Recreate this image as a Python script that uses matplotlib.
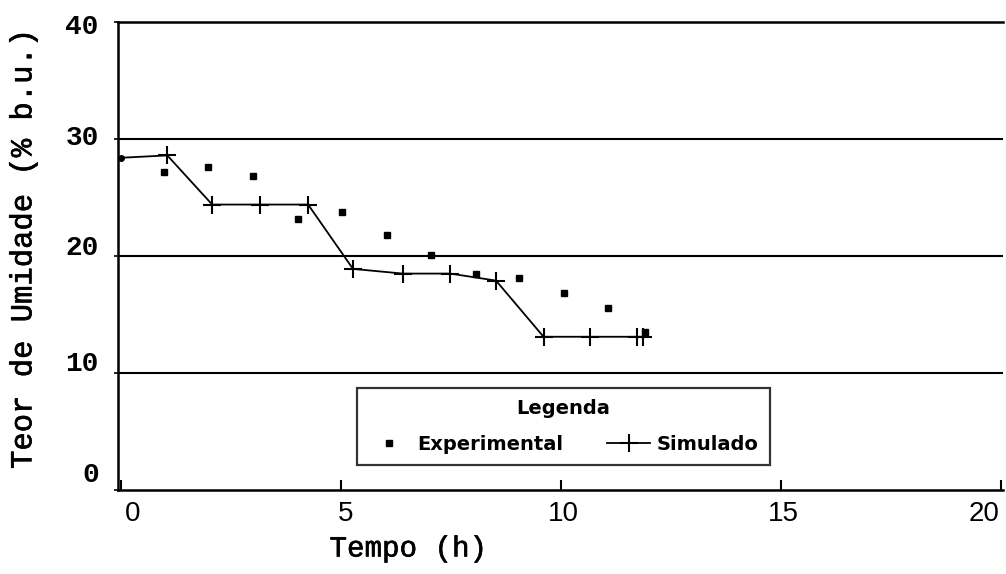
import matplotlib
matplotlib.use("Agg")
import matplotlib.pyplot as plt
import matplotlib.patheffects as pe
from matplotlib.transforms import ScaledTranslation

# experimental moisture content (% b.u.) vs time (h)
exp_time = [0.98, 1.98, 3.0, 4.02, 5.02, 6.05, 7.05, 8.07, 9.05, 10.07, 11.07, 11.9]
exp_moist = [27.2, 27.6, 26.8, 23.2, 23.8, 21.8, 20.1, 18.5, 18.1, 16.8, 15.6, 13.5]

# simulated moisture content
sim_time = [0.0, 1.05, 2.07, 3.16, 4.25, 5.27, 6.4, 7.48, 8.52, 9.6, 10.66, 11.72, 11.86]
sim_moist = [28.4, 28.6, 24.4, 24.4, 24.4, 18.9, 18.5, 18.5, 17.9, 13.1, 13.1, 13.1, 13.1]

x_ticks = [0, 5, 10, 15, 20]
y_ticks = [0, 10, 20, 30, 40]
grid_levels = [10, 20, 30]

# small nudges (pixels) so the tick labels sit where the scanned figure has them
x_label_shift = [12, 4, 2, 2, -17]
y_label_shift = [18, 12, 11, 4, -2]

# thickens the thin Courier-like strokes a little (scanned print look)
heavy = [pe.withStroke(linewidth=0.45, foreground="black")]

fig = plt.figure(figsize=(10.06, 5.74), dpi=100)
ax = fig.add_axes([0.1173, 0.1463, 0.8797, 0.8153])

for g in grid_levels:
    ax.axhline(g, color="black", lw=1.5, zorder=1)

ax.plot(exp_time, exp_moist, ls="none", marker="s", ms=4.5, color="black",
        label="Experimental", zorder=3)
ax.plot(sim_time, sim_moist, color="black", lw=1.3, marker="+", ms=13, mew=1.5,
        markevery=list(range(1, len(sim_time))), label="Simulado", zorder=3)
ax.plot(sim_time[:1], sim_moist[:1], ls="none", marker="o", ms=4, color="black", zorder=3)

ax.set_xlim(-0.07, 20.04)
ax.set_ylim(0, 40)
ax.set_xticks(x_ticks)
ax.set_yticks(y_ticks)

for side in ["left", "bottom", "top"]:
    ax.spines[side].set_linewidth(1.8)
ax.spines["right"].set_visible(False)

ax.tick_params(axis="x", direction="in", length=7, width=1.5, pad=8)
ax.tick_params(axis="y", direction="out", length=3, width=1.2, pad=11)
for lab, dx in zip(ax.get_xticklabels(), x_label_shift):
    lab.set_fontfamily("Liberation Sans")
    lab.set_fontsize(20)
    lab.set_transform(lab.get_transform() + ScaledTranslation(dx / 100, 0, fig.dpi_scale_trans))
for lab, dy in zip(ax.get_yticklabels(), y_label_shift):
    lab.set_fontfamily("Liberation Mono")
    lab.set_fontsize(20)
    lab.set_fontweight("bold")
    lab.set_transform(lab.get_transform() + ScaledTranslation(0, dy / 100, fig.dpi_scale_trans))

ax.set_xlabel("Tempo (h)", fontfamily="Liberation Mono", fontsize=21, path_effects=heavy)
ax.xaxis.set_label_coords(0.328, -0.095)
ax.set_ylabel("Teor de Umidade (% b.u.)", fontfamily="Liberation Mono", fontsize=22,
              path_effects=heavy)
ax.yaxis.set_label_coords(-0.09, 0.513)

leg = ax.legend(loc="lower left", bbox_to_anchor=(0.27, 0.053, 0.4667, 0.165), mode="expand",
                borderaxespad=0.0, ncol=2, title="Legenda", frameon=True, fancybox=False,
                borderpad=0.57, handlelength=2.2, handletextpad=0.35, columnspacing=2.0,
                labelspacing=0.9,
                prop={"family": "DejaVu Sans", "weight": "bold", "size": 14},
                title_fontproperties={"family": "DejaVu Sans", "weight": "bold", "size": 14})
leg.get_frame().set_edgecolor("black")
leg.get_frame().set_linewidth(1.6)

fig.savefig("out.png", dpi=100)
